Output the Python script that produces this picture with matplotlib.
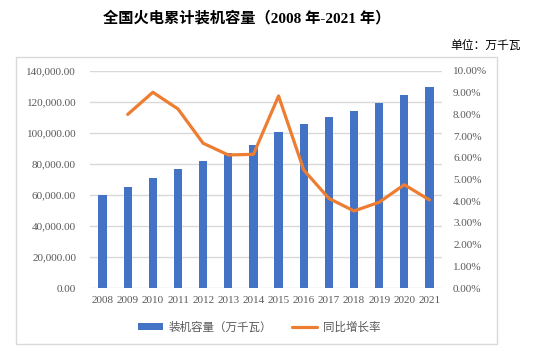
import numpy as np
import matplotlib.pyplot as plt
from matplotlib.patches import Rectangle
from matplotlib.ticker import FuncFormatter, MultipleLocator

years = ["2008", "2009", "2010", "2011", "2012", "2013", "2014",
         "2015", "2016", "2017", "2018", "2019", "2020", "2021"]
capacity = [60286, 65108, 70967, 76834, 81968, 87009, 92363,
            100554, 106094, 110604, 114408, 119055, 124517, 129678]
growth = [None, 8.00, 9.02, 8.25, 6.67, 6.13, 6.16,
          8.85, 5.44, 4.13, 3.55, 3.95, 4.76, 4.06]

serif = ["Liberation Serif", "Noto Sans CJK SC"]
cjk = ["Noto Sans CJK SC", "DejaVu Sans"]
txt = "#595959"

fig = plt.figure(figsize=(5.35, 3.6), dpi=100)
fig.patches.append(Rectangle((16 / 535, 1 - 344 / 360), 481 / 535, 287 / 360,
                             transform=fig.transFigure, fill=False,
                             edgecolor="#D9D9D9", lw=1))

ax = fig.add_axes([90 / 535, 1 - 288 / 360, 352 / 535, 217 / 360])
x = np.arange(len(years))
ax.bar(x, capacity, width=0.33, color="#4472C4", zorder=2,
       label="装机容量（万千瓦）")
ax.set_xlim(-0.5, len(years) - 0.5)
ax.set_ylim(0, 140000)
ax.yaxis.set_major_locator(MultipleLocator(20000))
ax.yaxis.set_major_formatter(FuncFormatter(lambda v, p: f"{v:,.2f}"))
ax.grid(axis="y", color="#D9D9D9", lw=1, zorder=0)
ax.set_xticks(x)
ax.set_xticklabels(years)
for s in ax.spines.values():
    s.set_visible(False)
ax.tick_params(length=0, colors=txt, labelsize=8)
ax.tick_params(axis="y", pad=10)
ax.tick_params(axis="x", pad=6)
for lab in ax.get_xticklabels() + ax.get_yticklabels():
    lab.set_family(serif)

ax2 = ax.twinx()
gx = [i for i, g in enumerate(growth) if g is not None]
gy = [g / 100 for g in growth if g is not None]
ax2.plot(gx, gy, color="#ED7D31", lw=2.3, solid_capstyle="round",
         solid_joinstyle="round", label="同比增长率", zorder=3)
ax2.set_ylim(0, 0.10)
ax2.yaxis.set_major_locator(MultipleLocator(0.01))
ax2.yaxis.set_major_formatter(FuncFormatter(lambda v, p: f"{v * 100:.2f}%"))
for s in ax2.spines.values():
    s.set_visible(False)
ax2.tick_params(length=0, colors=txt, labelsize=8, pad=8)
for lab in ax2.get_yticklabels():
    lab.set_family(serif)

h1, l1 = ax.get_legend_handles_labels()
h2, l2 = ax2.get_legend_handles_labels()
leg = fig.legend(h1 + h2, l1 + l2, loc="center", bbox_to_anchor=(259 / 535, 1 - 327 / 360),
                 ncol=2, frameon=False, handlelength=2.2, handleheight=0.5,
                 handletextpad=0.5, columnspacing=1.7,
                 prop={"family": cjk, "size": 8.3})
for t in leg.get_texts():
    t.set_color(txt)

fig.text(247 / 535, 1 - 18 / 360, "全国火电累计装机容量（2008 年-2021 年）",
         ha="center", va="center", fontsize=11, fontweight="bold", family=serif)
fig.text(521 / 535, 1 - 45 / 360, "单位：万千瓦", ha="right", va="center",
         fontsize=8.5, family=cjk)

fig.savefig("out.png", dpi=100)
